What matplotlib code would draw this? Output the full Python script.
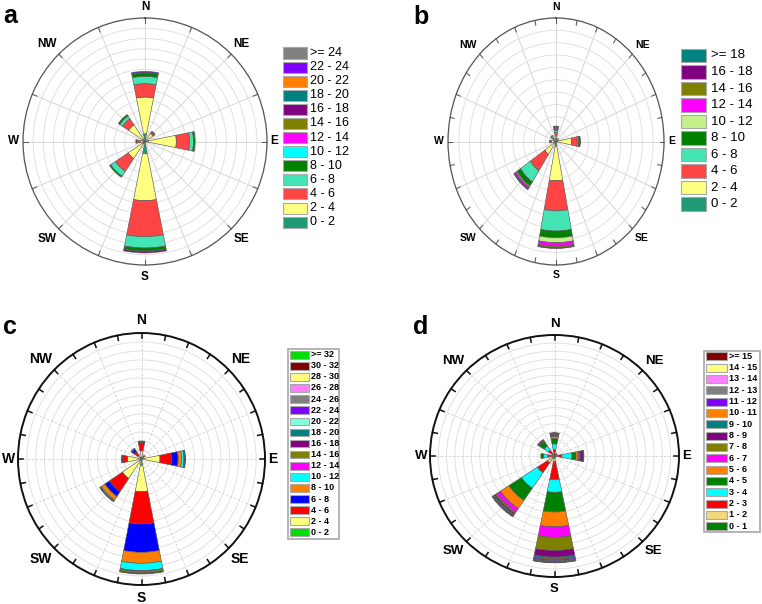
import numpy as np
import matplotlib
matplotlib.use('Agg')
import matplotlib.pyplot as plt
from matplotlib.patches import Rectangle

plt.rcParams['font.family'] = ['Liberation Sans', 'DejaVu Sans']

W, H = 762, 604

directions = ['N', 'NE', 'E', 'SE', 'S', 'SW', 'W', 'NW']
dir_angles = [0, 45, 90, 135, 180, 225, 270, 315]

# ---- panel a ----
a_bins = ['0 - 2', '2 - 4', '4 - 6', '6 - 8', '8 - 10', '10 - 12', '12 - 14',
          '14 - 16', '16 - 18', '18 - 20', '20 - 22', '22 - 24', '>= 24']
a_colors = ['#1f9a74', '#ffff80', '#ff4444', '#44e4b4', '#008000', '#00ffff', '#ff00ff',
            '#808000', '#800080', '#008080', '#ff8000', '#8000ff', '#808080']
# rows follow `directions`, columns follow a_bins
a_freq = [
    [0.75, 3.57, 1.30, 0.71, 0.33, 0, 0, 0, 0.05, 0, 0, 0.10, 0],
    [0.10, 0.85, 0.15, 0.05, 0.05, 0, 0, 0, 0, 0, 0, 0, 0],
    [0.32, 2.76, 1.30, 0.39, 0.16, 0, 0, 0, 0, 0, 0, 0, 0],
    [0.10, 0, 0, 0, 0, 0, 0, 0, 0, 0, 0, 0, 0],
    [1.20, 4.55, 3.50, 1.10, 0.30, 0.03, 0, 0.03, 0.12, 0, 0, 0, 0],
    [0.26, 1.74, 1.50, 0.56, 0.13, 0, 0, 0, 0, 0, 0, 0, 0],
    [0.10, 0.35, 0.35, 0.05, 0.05, 0, 0, 0, 0, 0, 0, 0, 0],
    [0.26, 1.69, 0.71, 0.33, 0.16, 0, 0, 0, 0, 0, 0, 0, 0],
]

# ---- panel b ----
b_bins = ['0 - 2', '2 - 4', '4 - 6', '6 - 8', '8 - 10', '10 - 12', '12 - 14',
          '14 - 16', '16 - 18', '>= 18']
b_colors = ['#1f9a74', '#ffff80', '#ff4444', '#44e4b4', '#008000', '#c4f08a', '#ff00ff',
            '#808000', '#800080', '#008080']
b_freq = [
    [0.20, 0.25, 0.30, 0.15, 0.10, 0.05, 0.15, 0.05, 0, 0],
    [0.10, 0.20, 0, 0, 0, 0, 0, 0, 0, 0],
    [0.05, 1.40, 0.52, 0.15, 0.02, 0.01, 0.07, 0.03, 0, 0],
    [0.10, 0, 0, 0, 0, 0, 0, 0, 0, 0],
    [0.40, 2.78, 2.44, 1.63, 0.55, 0.40, 0.28, 0.12, 0.07, 0],
    [0.15, 1.10, 1.60, 1.10, 0.40, 0.10, 0.15, 0.05, 0.05, 0],
    [0.10, 0.30, 0.15, 0.05, 0, 0, 0, 0, 0, 0],
    [0.10, 0.20, 0.10, 0.15, 0.05, 0, 0, 0, 0, 0],
]

# ---- panel c ----
c_bins = ['0 - 2', '2 - 4', '4 - 6', '6 - 8', '8 - 10', '10 - 12', '12 - 14', '14 - 16',
          '16 - 18', '18 - 20', '20 - 22', '22 - 24', '24 - 26', '26 - 28', '28 - 30',
          '30 - 32', '>= 32']
c_colors = ['#00dd00', '#ffff80', '#ff0000', '#0000ff', '#ff8000', '#00ffff', '#ff00ff',
            '#808000', '#800080', '#008080', '#80ffdd', '#8000ff', '#808080', '#ff80ff',
            '#ffff80', '#800000', '#00dd00']
c_freq = [
    [0.10, 0.80, 0.80, 0.15, 0.02, 0.02, 0, 0.03, 0.08, 0, 0, 0, 0, 0, 0, 0, 0],
    [0.05, 0.15, 0.30, 0, 0, 0, 0, 0, 0, 0, 0, 0, 0, 0, 0, 0, 0],
    [0.10, 2.00, 1.30, 0.75, 0.40, 0.25, 0.05, 0.05, 0.04, 0.03, 0, 0, 0, 0, 0, 0, 0],
    [0.05, 0, 0, 0, 0, 0, 0, 0, 0, 0, 0, 0, 0, 0, 0, 0, 0],
    [0.74, 2.89, 3.59, 3.15, 1.22, 0.81, 0.08, 0.19, 0.06, 0.05, 0, 0, 0, 0, 0, 0, 0],
    [0.15, 2.45, 1.77, 0.63, 0.48, 0.12, 0.02, 0.02, 0.02, 0.05, 0, 0, 0, 0, 0, 0, 0],
    [0.05, 1.55, 0.55, 0.08, 0, 0, 0, 0, 0.03, 0, 0, 0, 0, 0, 0, 0, 0],
    [0.05, 0.45, 0.50, 0.30, 0, 0, 0, 0, 0.05, 0.10, 0, 0, 0, 0, 0, 0, 0],
]

# ---- panel d ----
d_bins = ['0 - 1', '1 - 2', '2 - 3', '3 - 4', '4 - 5', '5 - 6', '6 - 7', '7 - 8', '8 - 9',
          '9 - 10', '10 - 11', '11 - 12', '12 - 13', '13 - 14', '14 - 15', '>= 15']
d_colors = ['#008000', '#f5d77a', '#ff0000', '#00ffff', '#008000', '#ff8000', '#ff00ff',
            '#808000', '#800080', '#008080', '#ff8000', '#8000ff', '#808080', '#ff80ff',
            '#ffff80', '#800000']
d_freq = [
    [0.10, 0.20, 0.50, 0.70, 0.70, 0.25, 0.05, 0.10, 0.05, 0.05, 0.05, 0.03, 0.02, 0.02, 0.02, 0.04],
    [0.10, 0.10, 0.20, 0, 0, 0, 0, 0, 0, 0, 0, 0, 0, 0, 0, 0],
    [0.10, 0.20, 0.60, 1.20, 0.50, 0.25, 0.10, 0.15, 0.35, 0.05, 0.02, 0.03, 0, 0, 0, 0],
    [0.10, 0.10, 0, 0, 0, 0, 0, 0, 0, 0, 0, 0, 0, 0, 0, 0],
    [0.30, 0.40, 2.25, 1.55, 2.44, 1.84, 1.30, 1.63, 0.82, 0.22, 0.10, 0.15, 0.10, 0.05, 0.05, 0.05],
    [0.33, 0.69, 1.48, 2.30, 1.82, 1.23, 0.53, 0.20, 0.16, 0.09, 0.08, 0.04, 0.04, 0.02, 0.02, 0.02],
    [0.10, 0.20, 0.50, 0.50, 0.25, 0.05, 0.05, 0, 0, 0, 0, 0, 0, 0, 0, 0],
    [0.10, 0.20, 0.60, 0.60, 0.70, 0.05, 0.05, 0.05, 0.05, 0.05, 0, 0, 0, 0, 0, 0],
]


def px_box(left, top, w, h):
    return [left / W, 1 - (top + h) / H, w / W, h / H]


def draw_rose(fig, box, freq, colors, rmax, tick_step, dashed, spine_lw, spine_col,
              lab_size, gap_h, gap_v):
    ax = fig.add_axes(px_box(*box), projection='polar')
    ax.set_aspect('auto')
    ax.set_theta_zero_location('N')
    ax.set_theta_direction(-1)
    ax.set_axisbelow(True)
    width = np.radians(22.5)
    for ang, row in zip(dir_angles, freq):
        bottom = 0.0
        for val, col in zip(row, colors):
            if val <= 0:
                continue
            ax.bar(np.radians(ang), val, width=width, bottom=bottom, color=col,
                   edgecolor='#5a5a5a', linewidth=0.45, zorder=3)
            bottom += val
    ax.set_ylim(0, rmax)
    ax.set_yticks(np.arange(1, rmax + 1))
    ax.set_yticklabels([])
    ax.set_xticks(np.radians(np.arange(0, 360, 22.5)))
    ax.set_xticklabels([])
    ax.tick_params(length=0)
    ax.yaxis.grid(True, color='#dcdcdc', linewidth=0.6, linestyle='-')
    ax.xaxis.grid(True, color='#d0d0d0', linewidth=0.6,
                  linestyle=(0, (3, 2)) if dashed else '-')
    ax.spines['polar'].set_linewidth(spine_lw)
    ax.spines['polar'].set_color(spine_col)
    for t in np.arange(0, 360, tick_step):
        ax.plot([np.radians(t)] * 2, [rmax * 0.96, rmax], color=spine_col,
                linewidth=spine_lw * 0.8, clip_on=False, zorder=4)
    # compass names just outside the rim
    for name, ang in zip(directions, dir_angles):
        s, c = np.sin(np.radians(ang)), np.cos(np.radians(ang))
        ha = 'center' if abs(s) < 0.3 else ('left' if s > 0 else 'right')
        va = 'center' if abs(c) < 0.3 else ('bottom' if c > 0 else 'top')
        ax.annotate(name, xy=(np.radians(ang), rmax), xytext=(gap_h * s * 0.72, gap_v * c * 0.72),
                    textcoords='offset points', ha=ha, va=va, fontsize=lab_size,
                    fontweight='bold', annotation_clip=False)
    return ax


def draw_legend(fig, labels, colors, x, y_first, dy, pw, ph, gap, fs, bold, frame=None):
    for k, (lab, col) in enumerate(zip(labels[::-1], colors[::-1])):
        yc = y_first + k * dy
        fig.patches.append(Rectangle((x / W, 1 - (yc + ph / 2) / H), pw / W, ph / H,
                                     transform=fig.transFigure, facecolor=col,
                                     edgecolor='#a8a8a8', linewidth=0.8))
        fig.text((x + pw + gap) / W, 1 - yc / H, lab, ha='left', va='center',
                 fontsize=fs, fontweight='bold' if bold else 'normal')
    if frame is not None:
        fl, ft, fw, fh = frame
        fig.patches.append(Rectangle((fl / W, 1 - (ft + fh) / H), fw / W, fh / H,
                                     transform=fig.transFigure, facecolor='none',
                                     edgecolor='#a8a8a8', linewidth=1.2))


fig = plt.figure(figsize=(W / 100, H / 100), dpi=100)

draw_rose(fig, (23, 18, 244, 247), a_freq, a_colors, 12, 22.5, False, 0.9, '#555555', 8.5, 3.5, 5.5)
draw_rose(fig, (448, 18, 216, 247), b_freq, b_colors, 10, 11.25, False, 0.9, '#555555', 7.5, 4, 5.5)
draw_rose(fig, (18, 333, 247, 252), c_freq, c_colors, 14, 11.25, True, 1.4, '#111111', 10, 3, 5.5)
draw_rose(fig, (430, 335, 249, 242), d_freq, d_colors, 15, 11.25, True, 1.4, '#111111', 9.5, 3, 5.5)

draw_legend(fig, a_bins, a_colors, 283, 53, 14.1, 24, 11, 3.5, 9, False)
draw_legend(fig, b_bins, b_colors, 681, 55.5, 16.5, 25, 13.5, 5, 9.5, False)
draw_legend(fig, c_bins, c_colors, 289.5, 354.7, 11.1, 19, 7.6, 2.8, 6.5, True,
            frame=(288, 349, 51, 190))
draw_legend(fig, d_bins, d_colors, 706, 356.3, 11.33, 20.5, 8, 2.8, 6.5, True,
            frame=(704, 351, 56, 181))

fig.text(3 / W, 1 - 23 / H, 'a', fontsize=18, fontweight='bold', va='baseline')
fig.text(413 / W, 1 - 24 / H, 'b', fontsize=18, fontweight='bold', va='baseline')
fig.text(3 / W, 1 - 334 / H, 'c', fontsize=18, fontweight='bold', va='baseline')
fig.text(413 / W, 1 - 334 / H, 'd', fontsize=18, fontweight='bold', va='baseline')

fig.savefig('out.png', dpi=100)
